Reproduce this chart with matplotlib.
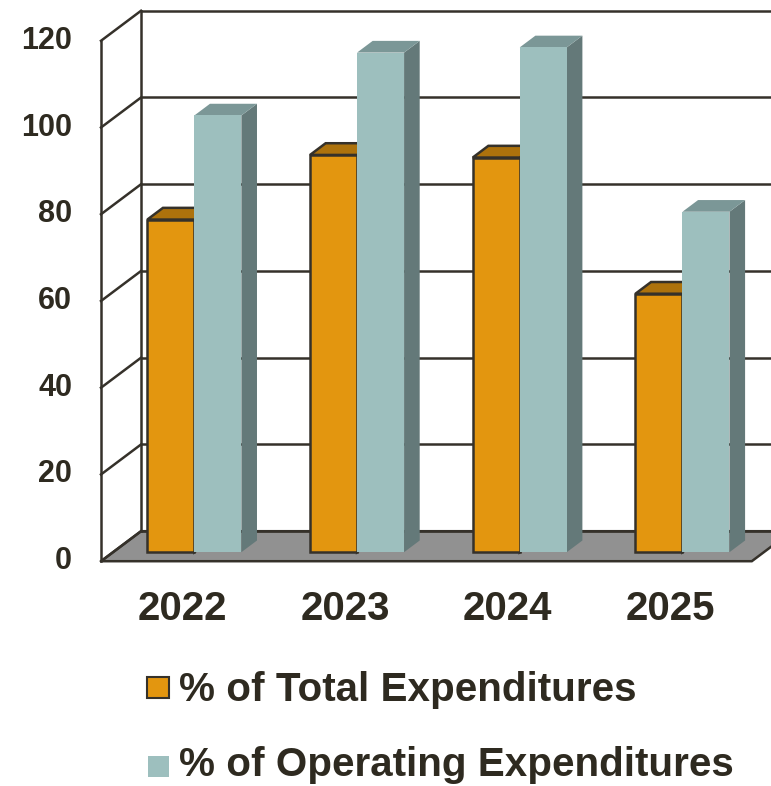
import matplotlib.pyplot as plt
from matplotlib.patches import Polygon, Rectangle

plt.rcParams['font.family'] = ['Liberation Sans', 'DejaVu Sans']
plt.rcParams['font.weight'] = 'bold'

years = ['2022', '2023', '2024', '2025']
pct_total = [76.7, 91.6, 91.0, 59.6]
pct_operating = [100.7, 115.2, 116.4, 78.5]
yticks = [0, 20, 40, 60, 80, 100, 120]
series_names = ['% of Total Expenditures', '% of Operating Expenditures']

# oblique "3d" look: depth d in [0,1] shifts a point right and up
DX = 0.246   # category units
DY = 6.92    # value units
D0, D1 = 0.30, 0.69   # bar depth span
BW = 0.289            # bar width

ink = '#35312a'
txt = '#2e2a20'
orange = ('#e3960f', '#ad720c', '#8a5b0a')   # front, top, side
teal = ('#9dbfbe', '#7b9797', '#647979')


def pj(x, y, d):
    return (x + d * DX, y + d * DY)


fig = plt.figure(figsize=(7.71, 7.86), dpi=100)
ax = fig.add_axes([0, 0, 1, 1])
ax.set_xlim(-0.6208, 4.118)
ax.set_ylim(-51.83, 129.4)
ax.axis('off')

ncat = len(years)
ymax = yticks[-1]
lw = 1.8

# floor
floor = [pj(0, 0, 0), pj(ncat, 0, 0), pj(ncat, 0, 1), pj(0, 0, 1)]
ax.add_patch(Polygon(floor, closed=True, facecolor='#919191', edgecolor=ink,
                     lw=lw, zorder=1))

# back wall gridlines and left wall
for v in yticks:
    x0, y0 = pj(0, v, 1)
    x1, y1 = pj(ncat + 1, v, 1)
    ax.plot([x0, x1], [y0, y1], color=ink, lw=lw, zorder=2, solid_capstyle='butt')
    xa, ya = pj(0, v, 0)
    ax.plot([xa, x0], [ya, y0], color=ink, lw=lw, zorder=2)
    ax.text(-0.178, v, str(v), ha='right', va='center', fontsize=22,
            color=txt, fontweight='bold')
for d in (0, 1):
    xa, ya = pj(0, 0, d)
    xb, yb = pj(0, ymax, d)
    ax.plot([xa, xb], [ya, yb], color=ink, lw=lw, zorder=2)


def bar3d(xl, h, cols, edge):
    xr = xl + BW
    front = [pj(xl, 0, D0), pj(xr, 0, D0), pj(xr, h, D0), pj(xl, h, D0)]
    top = [pj(xl, h, D0), pj(xr, h, D0), pj(xr, h, D1), pj(xl, h, D1)]
    side = [pj(xr, 0, D0), pj(xr, 0, D1), pj(xr, h, D1), pj(xr, h, D0)]
    ec = ink if edge else 'none'
    for poly, c in ((side, cols[2]), (top, cols[1]), (front, cols[0])):
        ax.add_patch(Polygon(poly, closed=True, facecolor=c, edgecolor=ec,
                             lw=lw if edge else 0, zorder=3))


for i in range(ncat):
    bar3d(i + 0.5 - BW, pct_total[i], orange, True)
    bar3d(i + 0.5, pct_operating[i], teal, False)
    ax.text(i + 0.5, -11.0, years[i], ha='center', va='center', fontsize=29,
            color=txt, fontweight='bold')

# legend
fig.patches.append(Rectangle((0.191, 0.1123), 0.0285, 0.0267, transform=fig.transFigure,
                             facecolor=orange[0], edgecolor=ink, lw=1.5))
fig.text(0.232, 0.108, series_names[0], ha='left', va='baseline', fontsize=29.1,
         color=txt, fontweight='bold')
fig.patches.append(Rectangle((0.192, 0.012), 0.0272, 0.0264, transform=fig.transFigure,
                             facecolor=teal[0], edgecolor='none'))
fig.text(0.232, 0.0125, series_names[1], ha='left', va='baseline', fontsize=29.1,
         color=txt, fontweight='bold')

fig.savefig('out.png', dpi=100)
